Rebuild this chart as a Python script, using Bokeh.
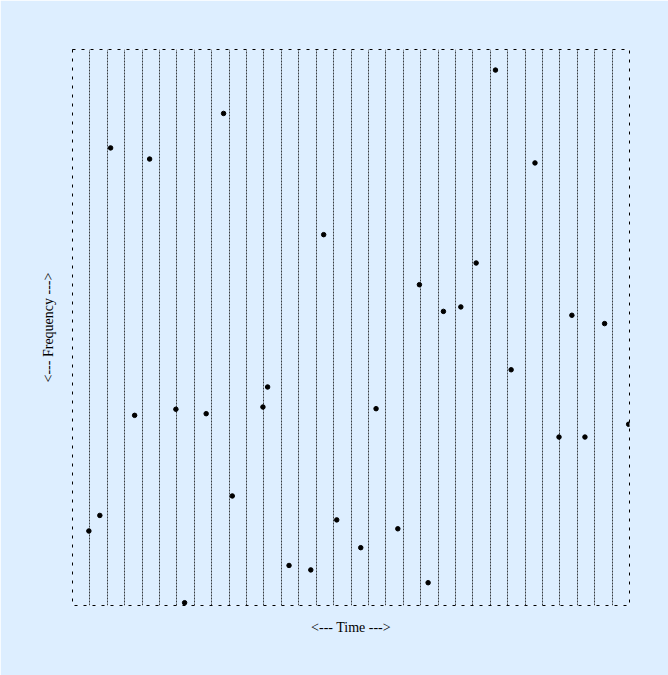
from bokeh.plotting import figure
from bokeh.models import FixedTicker, Range1d
from bokeh.embed import file_html
from bokeh.resources import INLINE

# data
time = [0.94, 1.57, 2.19, 3.57, 4.43, 5.94, 6.44, 7.68, 8.68, 9.18,
        10.94, 11.21, 12.44, 13.69, 14.43, 15.18, 16.56, 17.44, 18.69, 19.93,
        20.43, 21.31, 22.31, 23.19, 24.30, 25.20, 26.57, 27.95, 28.69, 29.44,
        30.57, 31.95]
frequency = [13.4, 16.2, 82.3, 34.2, 80.3, 35.3, 0.5, 34.5, 88.5, 19.7,
             35.7, 39.3, 7.2, 6.4, 66.7, 15.4, 10.4, 35.4, 13.8, 57.7,
             4.1, 52.9, 53.7, 61.6, 96.3, 42.4, 79.6, 30.3, 52.2, 30.3,
             50.7, 32.6]
grid_ticks = list(range(1, 32))

BG = "#ddeeff"

p = figure(output_backend="svg", toolbar_location=None,
           frame_width=557, frame_height=556,
           x_range=Range1d(0, 32), y_range=Range1d(0, 100),
           min_border_left=72, min_border_right=39,
           min_border_top=49, min_border_bottom=70,
           background_fill_color=BG, border_fill_color=BG)

p.outline_line_color = "black"
p.outline_line_dash = "3 6"
p.outline_line_width = 1

p.xaxis.ticker = FixedTicker(ticks=[])
p.yaxis.ticker = FixedTicker(ticks=[])
p.xgrid.ticker = FixedTicker(ticks=grid_ticks)
p.xgrid.grid_line_color = "black"
p.xgrid.grid_line_dash = "2 1"
p.xgrid.grid_line_width = 1
p.xgrid.grid_line_alpha = 0.75
p.ygrid.grid_line_color = None

for ax in (p.xaxis, p.yaxis):
    ax.axis_line_color = None
    ax.major_tick_line_color = None
    ax.minor_tick_line_color = None
    ax.major_tick_out = 0
    ax.minor_tick_out = 0
    ax.major_label_text_font_size = "0px"
    ax.axis_label_text_font = "Liberation Serif"
    ax.axis_label_text_font_style = "normal"
    ax.axis_label_text_font_size = "14px"
    ax.axis_label_text_color = "black"

p.xaxis.axis_label = "<--- Time --->"
p.yaxis.axis_label = "<--- Frequency --->"
p.xaxis.axis_label_standoff = 14
p.yaxis.axis_label_standoff = 17

p.scatter(time, frequency, size=4.5, color="black")

open("out.html", "w").write(file_html(p, INLINE))
